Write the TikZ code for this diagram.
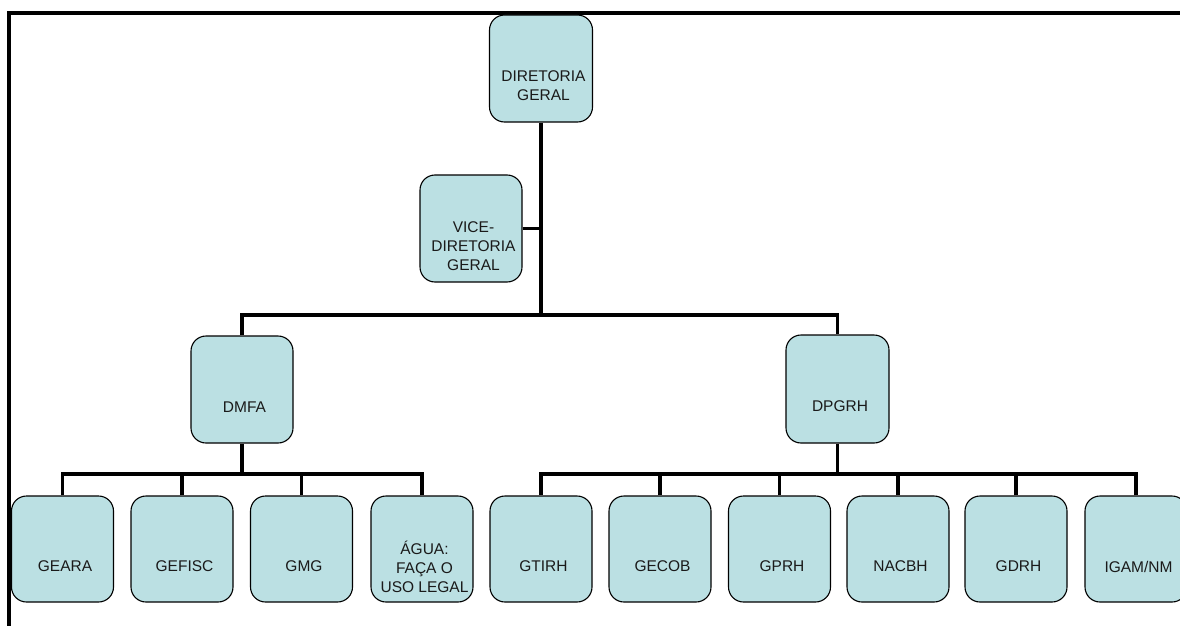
\documentclass[tikz,border=0pt]{standalone}
\usepackage{fontspec}
\setmainfont{Liberation Sans}
\definecolor{boxfill}{HTML}{BBE0E3}
\definecolor{inktext}{HTML}{1A1A1A}
\begin{document}
\begin{tikzpicture}[x=1pt,y=-1pt,
  orgbox/.style={draw=black, line width=1.1pt, fill=boxfill,
    rounded corners=15pt, minimum width=102pt, minimum height=106pt,
    inner sep=0pt},
  boxtext/.style={text=inktext, align=center, inner sep=0pt,
    font=\fontsize{15.5}{19}\selectfont, xshift=2.5pt, yshift=-17.5pt},
  conn/.style={line width=3.3pt, black},
  frameline/.style={line width=4pt, black}]
\useasboundingbox (0,0) rectangle (1180,626);
\clip (0,0) rectangle (1180,626);

% outer frame (only top and left edges visible)
\coordinate (fbl) at (9.3,660);
\coordinate (ftl) at (9.3,13.3);
\coordinate (ftr) at (1220,13.3);
\draw[frameline] (fbl) -- (ftl) -- (ftr);

% top levels
\node[orgbox, minimum width=103pt, minimum height=107pt,
  label={[boxtext]center:DIRETORIA\\GERAL}] (dg) at (541,68.5) {};
\node[orgbox, minimum height=107pt,
  label={[boxtext]center:VICE-\\DIRETORIA\\GERAL}] (vdg) at (471,228.5) {};
\node[orgbox, minimum height=107pt,
  label={[boxtext]center:DMFA}] (dmfa) at (242,389.5) {};
\node[orgbox, minimum width=103pt, minimum height=108pt,
  label={[boxtext]center:DPGRH}] (dpgrh) at (837.5,389) {};

% bottom row
\node[orgbox, label={[boxtext]center:GEARA}]  (geara)  at (62.5,549) {};
\node[orgbox, label={[boxtext]center:GEFISC}] (gefisc) at (182,549) {};
\node[orgbox, label={[boxtext]center:GMG}]    (gmg)    at (301.5,549) {};
\node[orgbox, label={[boxtext]center:ÁGUA:\\FAÇA O\\USO LEGAL}] (agua) at (422,549) {};
\node[orgbox, label={[boxtext]center:GTIRH}]  (gtirh)  at (541,549) {};
\node[orgbox, label={[boxtext]center:GECOB}]  (gecob)  at (660,549) {};
\node[orgbox, label={[boxtext]center:GPRH}]   (gprh)   at (779.5,549) {};
\node[orgbox, label={[boxtext]center:NACBH}]  (nacbh)  at (898,549) {};
\node[orgbox, label={[boxtext]center:GDRH}]   (gdrh)   at (1016,549) {};
\node[orgbox, label={[boxtext]center:IGAM/NM}] (igam)  at (1136,549) {};

% junctions of the connector lines
\coordinate (jtop) at (541,315);
\coordinate (jleft) at (242,474);
\coordinate (jright) at (837.5,474);

% connectors
\draw[conn] (dg.south) -- (jtop);
\draw[conn] (vdg.east) -- (vdg.east -| jtop);
\draw[conn] (dmfa.north) |- (jtop);
\draw[conn] (dpgrh.north) |- (jtop);

\draw[conn] (dmfa.south) -- (jleft);
\foreach \c in {geara,gefisc,gmg,agua}
  \draw[conn] (\c.north) |- (jleft);

\draw[conn] (dpgrh.south) -- (jright);
\foreach \c in {gtirh,gecob,gprh,nacbh,gdrh,igam}
  \draw[conn] (\c.north) |- (jright);
\end{tikzpicture}
\end{document}
